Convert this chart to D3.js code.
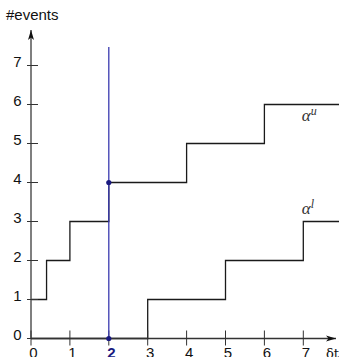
<!DOCTYPE html>
<html>
<head>
<meta charset="utf-8">
<script src="https://cdn.jsdelivr.net/npm/d3@7"></script>
<style>
  body { margin: 0; background: #fff; }
  svg { display: block; font-family: "Liberation Sans", Arial, sans-serif; }
</style>
</head>
<body>
<div id="chart"></div>
<script>
// data
const xTicks = [0, 1, 2, 3, 4, 5, 6, 7];
const yTicks = [0, 1, 2, 3, 4, 5, 6, 7];
const upperT = [0, 0.4, 1, 2, 4, 6];
const upperN = [1, 2, 3, 4, 5, 6];
const lowerT = [0, 3, 5, 7];
const lowerN = [0, 1, 2, 3];
const markT = 2;
const markN = [0, 4];

const W = 339, H = 357;

const svg = d3.select("#chart").append("svg")
    .attr("width", W)
    .attr("height", H);

const x = d3.scaleLinear().domain([0, 7]).range([31, 303.3]);
const y = d3.scaleLinear().domain([0, 7]).range([338.5, 65.5]);
const tEnd = x.invert(W + 2);

const defs = svg.append("defs");
defs.append("marker")
    .attr("id", "arrowY")
    .attr("viewBox", "0 0 10 10")
    .attr("refX", 10).attr("refY", 5)
    .attr("markerWidth", 10).attr("markerHeight", 10)
    .attr("markerUnits", "userSpaceOnUse")
    .attr("orient", "auto")
    .append("path")
    .attr("d", "M0,2 L10,5 L0,8 L2.5,5 Z")
    .attr("fill", "#111");

// step curves
const line = d3.line()
    .x(d => x(d[0]))
    .y(d => y(d[1]))
    .curve(d3.curveStepAfter);

const upperPts = upperT.map((t, i) => [t, upperN[i]]);
upperPts.push([tEnd, upperN[upperN.length - 1]]);
const lowerPts = lowerT.map((t, i) => [t, lowerN[i]]);
lowerPts.push([tEnd, lowerN[lowerN.length - 1]]);

svg.append("path")
    .attr("d", line(upperPts))
    .attr("fill", "none")
    .attr("stroke", "#1a1a1a")
    .attr("stroke-width", 1.3);

svg.append("path")
    .attr("d", line(lowerPts))
    .attr("fill", "none")
    .attr("stroke", "#1a1a1a")
    .attr("stroke-width", 1.3);

// axes
svg.append("line")
    .attr("x1", x(0)).attr("x2", x(0))
    .attr("y1", y(0)).attr("y2", 30)
    .attr("stroke", "#555")
    .attr("stroke-width", 1.5)
    .attr("marker-end", "url(#arrowY)");

svg.append("line")
    .attr("x1", x(0)).attr("x2", 336)
    .attr("y1", y(0)).attr("y2", y(0))
    .attr("stroke", "#333")
    .attr("stroke-width", 1.5)
    .attr("marker-end", "url(#arrowY)");

svg.selectAll(".ytick")
    .data(yTicks)
    .enter().append("line")
    .attr("x1", x(0) - 4).attr("x2", x(0) + 7)
    .attr("y1", d => y(d)).attr("y2", d => y(d))
    .attr("stroke", "#333")
    .attr("stroke-width", 1);

svg.selectAll(".xtick")
    .data(xTicks)
    .enter().append("line")
    .attr("x1", d => x(d)).attr("x2", d => x(d))
    .attr("y1", y(0) - 8).attr("y2", y(0) + 7)
    .attr("stroke", "#333")
    .attr("stroke-width", 1);

svg.selectAll(".ylabel")
    .data(yTicks)
    .enter().append("text")
    .attr("x", 21.5)
    .attr("y", d => y(d) + 1)
    .attr("text-anchor", "end")
    .style("font-size", "15px")
    .style("fill", "#111")
    .text(d => d);

svg.selectAll(".xlabel")
    .data(xTicks)
    .enter().append("text")
    .attr("x", d => x(d) + 2.5)
    .attr("y", 358)
    .attr("text-anchor", "middle")
    .style("font-size", "15px")
    .style("font-weight", d => d === markT ? "bold" : "normal")
    .style("fill", d => d === markT ? "#1a1a80" : "#111")
    .text(d => d);

svg.append("text")
    .attr("x", 6).attr("y", 20)
    .style("font-size", "15px")
    .style("fill", "#111")
    .text("#events");

svg.append("text")
    .attr("x", 326).attr("y", 358)
    .style("font-family", "'DejaVu Serif', serif")
    .style("font-size", "13px")
    .style("fill", "#111")
    .text("δt");

// vertical marker at t=2
svg.append("line")
    .attr("x1", x(markT)).attr("x2", x(markT))
    .attr("y1", 47).attr("y2", y(0))
    .attr("stroke", "#3a3ab0")
    .attr("stroke-width", 1.3);

svg.selectAll(".dot")
    .data(markN)
    .enter().append("circle")
    .attr("cx", x(markT))
    .attr("cy", d => y(d))
    .attr("r", 2.6)
    .attr("fill", "#1a1a80");

// curve labels
const labels = [
    { base: "α", sup: "u", t: 7, n: 6, dy: 16.5 },
    { base: "α", sup: "l", t: 7, n: 3, dy: -7.5 }
];
labels.forEach(l => {
    const tx = svg.append("text")
        .attr("x", x(l.t) - 1.5)
        .attr("y", y(l.n) + l.dy)
        .style("font-family", "'Liberation Serif', serif")
        .style("font-style", "italic")
        .style("font-size", "17px")
        .style("fill", "#333");
    tx.append("tspan").text(l.base);
    tx.append("tspan")
        .attr("dy", -6)
        .style("font-size", "12px")
        .text(l.sup);
});
</script>
</body>
</html>
